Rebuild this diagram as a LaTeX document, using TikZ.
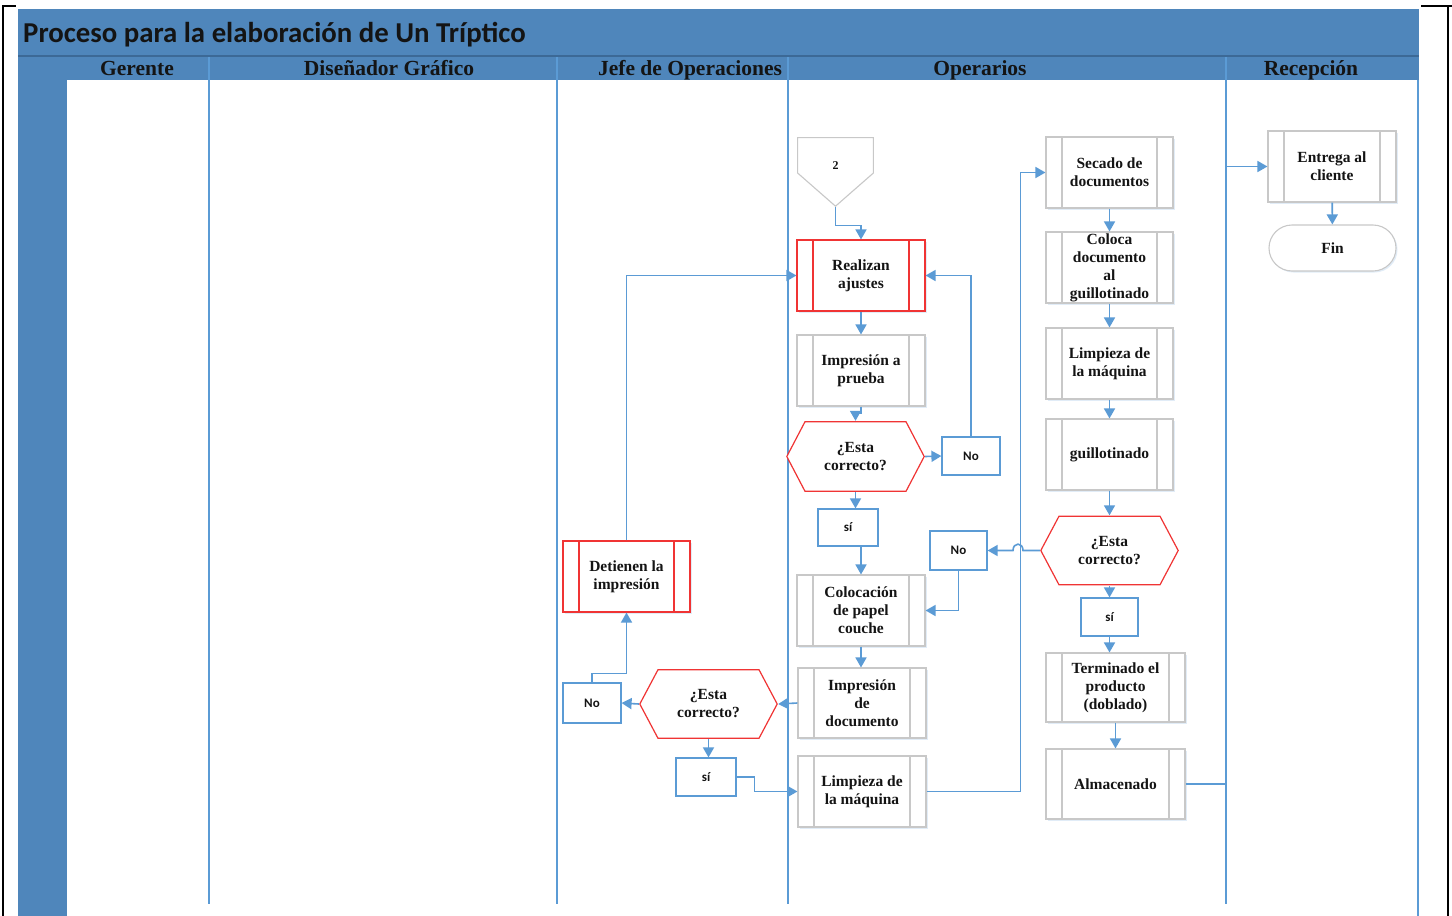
\documentclass[tikz,border=0pt]{standalone}
\usepackage{fontspec}
\setmainfont{Liberation Serif}
\newfontfamily\calib{Carlito}
\usetikzlibrary{arrows.meta,shadows}

\definecolor{bandblue}{RGB}{79,134,187}
\definecolor{banddark}{RGB}{60,105,150}
\definecolor{laneblue}{RGB}{91,155,213}
\definecolor{flowred}{RGB}{240,52,52}
\definecolor{boxgray}{RGB}{200,200,200}
\definecolor{inkblack}{RGB}{20,20,20}

\tikzset{
  conn/.style={draw=laneblue, line width=1.6pt, -{Triangle[length=10pt,width=11pt]}},
  lane/.style={draw=laneblue, line width=1.3pt},
  lanehead/.style={font=\rmfamily\fontsize{21.5}{24}\selectfont\bfseries, text=inkblack, inner sep=0pt, anchor=base},
  nodetext/.style={font=\rmfamily\fontsize{15.5}{18}\selectfont\bfseries, text=inkblack, align=center, inner sep=0pt},
  boxshadow/.style={drop shadow={shadow xshift=1.5pt, shadow yshift=-1.5pt, fill=laneblue, opacity=0.18}},
  procbox/.style={nodetext, draw=#1, fill=white, line width=1.1pt,
    minimum width=128pt, minimum height=71pt, boxshadow,
    path picture={\draw[#1, line width=1.1pt]
      ([xshift=16pt]path picture bounding box.north west) -- ([xshift=16pt]path picture bounding box.south west)
      ([xshift=-16pt]path picture bounding box.north east) -- ([xshift=-16pt]path picture bounding box.south east);}},
  procbox/.default=boxgray,
  hexbox/.style={nodetext, minimum width=139pt, minimum height=71pt,
    path picture={\filldraw[fill=white, draw=flowred, line width=1.2pt]
      ([xshift=0.8pt]path picture bounding box.west)
      -- ([xshift=19pt,yshift=-0.7pt]path picture bounding box.north west)
      -- ([xshift=-19pt,yshift=-0.7pt]path picture bounding box.north east)
      -- ([xshift=-0.8pt]path picture bounding box.east)
      -- ([xshift=-19pt,yshift=0.7pt]path picture bounding box.south east)
      -- ([xshift=19pt,yshift=0.7pt]path picture bounding box.south west) -- cycle;}},
  ansbox/.style={draw=laneblue, fill=white, line width=1.2pt, minimum width=58pt, minimum height=38pt,
    inner sep=0pt, font=\calib\fontsize{13}{15}\selectfont\bfseries, text=inkblack},
  offpage/.style={nodetext, font=\rmfamily\fontsize{12}{14}\selectfont\bfseries, minimum width=77pt, minimum height=70pt,
    path picture={\filldraw[fill=white, draw=boxgray, line width=1.1pt]
      ([xshift=0.6pt,yshift=-0.6pt]path picture bounding box.north west)
      -- ([xshift=-0.6pt,yshift=-0.6pt]path picture bounding box.north east)
      -- ([xshift=-0.6pt,yshift=-36pt]path picture bounding box.north east)
      -- ([yshift=0.8pt]path picture bounding box.south)
      -- ([xshift=0.6pt,yshift=-36pt]path picture bounding box.north west) -- cycle;}},
  endbox/.style={nodetext, draw=boxgray, fill=white, line width=1.1pt, rounded corners=23pt,
    minimum width=127pt, minimum height=46pt, boxshadow},
}

\begin{document}
\begin{tikzpicture}[x=1pt,y=-1pt]
\useasboundingbox (0,0) rectangle (1452,916);

% page frame behind the chart
\draw[line width=2.5pt] (3,930) -- (3,6) -- (1460,6) (1448,6) -- (1448,930);
\fill[white] (16,0) rectangle (1421,916);

% title band, lane header row and left column
\fill[bandblue] (18,9) rectangle (1419,80);
\draw[banddark, line width=1.5pt] (18,56) -- (1419,56);
\fill[bandblue] (18,80) rectangle (67,916);
\node[anchor=base west, font=\calib\fontsize{28.8}{32}\selectfont\bfseries, text=inkblack, inner sep=0pt]
  (title) at (23,42) {Proceso para la elaboración de Un Tríptico};

% lane separators
\foreach \lx in {209,557,788,1226} \draw[lane] (\lx,57) -- (\lx,904);
\draw[lane] (1418,80) -- (1418,916);

% lane titles
\node[lanehead] (hGer) at (137,75) {Gerente};
\node[lanehead] (hDis) at (389,75) {Diseñador Gráfico};
\node[lanehead] (hJef) at (690,75) {Jefe de Operaciones};
\node[lanehead] (hOpe) at (980,75) {Operarios};
\node[lanehead] (hRec) at (1311,75) {Recepción};

% Operarios, first column
\node[offpage] (c2) at (835.5,172) {\raisebox{13pt}{2}};
\node[procbox=flowred] (ajustes) at (861,275.5) {Realizan\\ajustes};
\node[procbox] (prueba) at (861,370.5) {Impresión a\\prueba};
\node[hexbox] (hex1) at (855.5,456.5) {¿Esta\\correcto?};
\node[ansbox] (no1) at (971,456) {No};
\node[ansbox, minimum width=60pt, minimum height=37pt] (si1) at (848,527.5) {sí};
\node[ansbox, minimum width=57pt, minimum height=39pt] (no2) at (958.5,550.5) {No};
\node[procbox] (coloc) at (861,610.5) {Colocación\\de papel\\couche};
\node[procbox, minimum height=70pt] (impdoc) at (862,703) {Impresión\\de\\documento};
\node[procbox] (limp1) at (862,791.5) {Limpieza de\\la máquina};

% Jefe de Operaciones
\node[hexbox, minimum height=70pt] (hex3) at (708.5,704) {¿Esta\\correcto?};
\node[ansbox, minimum height=40pt] (no3) at (592,703) {No};
\node[ansbox, minimum width=60pt] (si3) at (706,777) {sí};
\node[procbox=flowred, minimum width=127pt] (detienen) at (626.5,576.5) {Detienen la\\impresión};

% Operarios, second column
\node[procbox, minimum width=127pt] (secado) at (1109.5,172.5) {Secado de\\documentos};
\node[procbox, minimum width=127pt] (coloca) at (1109.5,267.5) {Coloca\\documento\\al\\guillotinado};
\node[procbox, minimum width=127pt] (limp2) at (1109.5,363.5) {Limpieza de\\la máquina};
\node[procbox, minimum width=127pt] (guill) at (1109.5,454.5) {guillotinado};
\node[hexbox, minimum height=70pt] (hex2) at (1109.5,550.5) {¿Esta\\correcto?};
\node[ansbox, minimum width=57pt] (si2) at (1109.5,617) {sí};
\node[procbox, minimum width=139pt, minimum height=69pt] (termin) at (1115.5,687.5) {Terminado el\\producto\\(doblado)};
\node[procbox, minimum width=139pt, minimum height=70pt] (almac) at (1115.5,784) {Almacenado};

% Recepción
\node[procbox] (entrega) at (1332,166.5) {Entrega al\\cliente};
\node[endbox] (fin) at (1332.5,248) {Fin};

% connectors
\draw[conn] (c2.south) |- ([yshift=14pt]ajustes.north) -- (ajustes.north);
\draw[conn] (ajustes) -- (prueba);
\draw[conn] (prueba.south) -- ++(0,7) -| (hex1.north);
\draw[conn] (hex1.east) -- (no1.west);
\draw[conn] (no1.north) |- (ajustes.east);
\draw[conn] (hex1.south) -- (hex1.south |- si1.north);
\draw[conn] (coloc.north |- si1.south) -- (coloc.north);
\draw[conn] (hex2.west) -- (1023,550.5) .. controls (1023,542) and (1013,542) .. (1013,550.5) -- (no2.east);
\draw[conn] (no2.south) |- (coloc.east);
\draw[conn] (coloc.south) -- (coloc.south |- impdoc.north);
\draw[conn] (impdoc.west) -- (hex3.east);
\draw[conn] (hex3.west) -- (no3.east);
\draw[conn] (no3.north) -- ++(0,-9) -| (detienen.south);
\draw[conn] (detienen.north) |- (ajustes.west);
\draw[conn] (hex3.south) -- (hex3.south |- si3.north);
\draw[conn] (si3.east) -- ++(18,0) |- (limp1.west);
\draw[conn] (limp1.east) -- ++(94,0) |- (secado.west);
\draw[conn] (secado) -- (coloca);
\draw[conn] (coloca) -- (limp2);
\draw[conn] (limp2) -- (guill);
\draw[conn] (guill) -- (hex2);
\draw[conn] (hex2) -- (si2);
\draw[conn] (si2.south) -- (si2.south |- termin.north);
\draw[conn] (termin) -- (almac);
\draw[conn] (almac.east) -- ++(41,0) |- (entrega.west);
\draw[conn] (entrega) -- (fin);
\end{tikzpicture}
\end{document}
